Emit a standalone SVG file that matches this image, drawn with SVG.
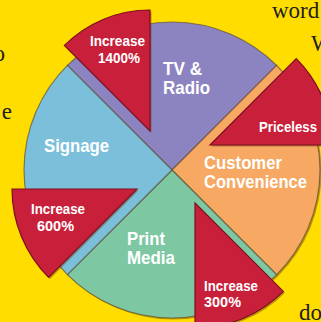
<svg xmlns="http://www.w3.org/2000/svg" width="321" height="322" viewBox="0 0 321 322">
<style>
.bg{font-family:"Liberation Serif","Times New Roman",serif;font-size:23px;fill:#1e1e1e}
.lbl{font-family:"Liberation Sans",Arial,sans-serif;font-weight:bold;font-size:19px;fill:#fff}
.sm{font-family:"Liberation Sans",Arial,sans-serif;font-weight:bold;font-size:15.5px;fill:#fff}
.sec{stroke:#5a4a30;stroke-opacity:.65;stroke-width:1.2}
.red{fill:#C8203A;stroke:#7e0f1e;stroke-width:1.2}
.shadow{fill:#6b3a10;opacity:.45}
</style>
<rect width="321" height="322" fill="#FFDD00"/>
<g id="background-text">
<text class="bg" x="272" y="18">word</text>
<text class="bg" x="311" y="51">W</text>
<text class="bg" x="5" y="61" text-anchor="end">o</text>
<text class="bg" x="12" y="119" text-anchor="end">e</text>
<text class="bg" x="299" y="320">do</text>
</g>
<g id="pie-shadow">
<circle cx="173.5" cy="171.5" r="148" class="shadow"/>
</g>
<g id="tv-radio">
<path class="sec" fill="#8C84C0" d="M172,170 L67.35,65.35 A148,148 0 0 1 276.65,65.35 Z"/>
<text class="lbl" x="163" y="75" textLength="39" lengthAdjust="spacingAndGlyphs">TV &amp;</text>
<text class="lbl" x="163" y="94" textLength="47" lengthAdjust="spacingAndGlyphs">Radio</text>
</g>
<g id="customer-convenience">
<path class="sec" fill="#F7A862" d="M172,170 L276.65,65.35 A148,148 0 0 1 276.65,274.65 Z"/>
<text class="lbl" x="204" y="169" textLength="78" lengthAdjust="spacingAndGlyphs">Customer</text>
<text class="lbl" x="204" y="188" textLength="103" lengthAdjust="spacingAndGlyphs">Convenience</text>
</g>
<g id="print-media">
<path class="sec" fill="#7DC8A2" d="M172,170 L276.65,274.65 A148,148 0 0 1 67.35,274.65 Z"/>
<text class="lbl" x="127" y="245" textLength="38" lengthAdjust="spacingAndGlyphs">Print</text>
<text class="lbl" x="127" y="264" textLength="48" lengthAdjust="spacingAndGlyphs">Media</text>
</g>
<g id="signage">
<path class="sec" fill="#7BBFDB" d="M172,170 L67.35,274.65 A148,148 0 0 1 67.35,65.35 Z"/>
<text class="lbl" x="44" y="152" textLength="65" lengthAdjust="spacingAndGlyphs">Signage</text>
</g>
<g id="increase-1400">
<path class="shadow" d="M151.5,132.5 L65.9,46.9 A121,121 0 0 1 151.5,11.5 Z"/>
<path class="red" d="M150,131 L64.4,45.4 A121,121 0 0 1 150,10 Z"/>
<text class="sm" x="90" y="46" textLength="55" lengthAdjust="spacingAndGlyphs">Increase</text>
<text class="sm" x="98" y="63" textLength="42" lengthAdjust="spacingAndGlyphs">1400%</text>
</g>
<g id="priceless">
<path class="shadow" d="M211.5,146.5 L297.8,60.2 A122,122 0 0 1 333.5,146.5 Z"/>
<path class="red" d="M210,145 L296.3,58.7 A122,122 0 0 1 332,145 Z"/>
<text class="sm" x="259" y="132" textLength="58" lengthAdjust="spacingAndGlyphs">Priceless</text>
</g>
<g id="increase-300">
<path class="shadow" d="M196.5,204.5 L284.9,292.9 A125,125 0 0 1 196.5,329.5 Z"/>
<path class="red" d="M195,203 L283.4,291.4 A125,125 0 0 1 195,328 Z"/>
<text class="sm" x="204" y="291" textLength="54" lengthAdjust="spacingAndGlyphs">Increase</text>
<text class="sm" x="204" y="307" textLength="37" lengthAdjust="spacingAndGlyphs">300%</text>
</g>
<g id="increase-600">
<path class="shadow" d="M138.5,190.5 L50.1,278.9 A125,125 0 0 1 13.5,190.5 Z"/>
<path class="red" d="M137,189 L48.6,277.4 A125,125 0 0 1 12,189 Z"/>
<text class="sm" x="31" y="214" textLength="54" lengthAdjust="spacingAndGlyphs">Increase</text>
<text class="sm" x="37" y="231" textLength="37" lengthAdjust="spacingAndGlyphs">600%</text>
</g>
</svg>
